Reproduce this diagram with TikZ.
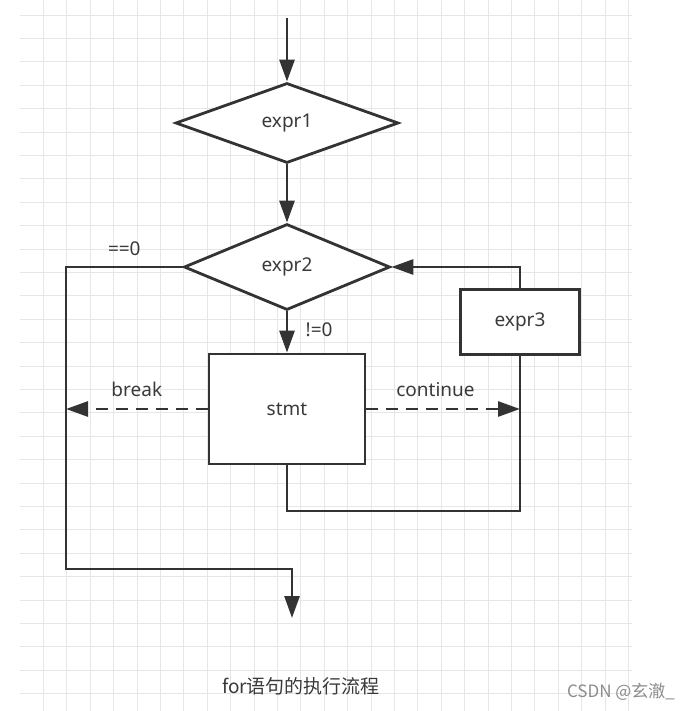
\documentclass[tikz,border=0pt]{standalone}
\usepackage{fontspec}
\setmainfont{Noto Sans}
\newfontfamily\cjkfont{Noto Sans CJK SC}
\usepackage{tikz}
\usetikzlibrary{shapes.geometric, arrows.meta, positioning, calc}
\definecolor{FlowLine}{RGB}{51, 51, 51}
\definecolor{FlowText}{RGB}{58, 58, 58}
\definecolor{FlowGrid}{RGB}{230, 230, 230}
\definecolor{FlowMark}{RGB}{140, 140, 140}

\tikzset{
  gridline/.style={draw=FlowGrid, line width=0.9pt},
  decision/.style={diamond, draw=FlowLine, line width=2.8pt, fill=white, inner sep=0pt},
  process/.style={rectangle, draw=FlowLine, line width=2.8pt, fill=white, inner sep=0pt},
  link/.style={draw=FlowLine, line width=2.8pt},
  flow/.style={link, -{Triangle[length=22pt, width=15pt]}},
  jump/.style={flow, dash pattern=on 12pt off 8pt}
}

\begin{document}
\begin{tikzpicture}[x=1pt, y=-1pt, font=\fontsize{19}{22}\selectfont, text=FlowText]
    \useasboundingbox[fill=white] (0,0) rectangle (698,711);
    % background grid
    \foreach \i in {1,...,26}
      \draw[gridline] (20+23.4*\i,0) -- (20+23.4*\i,711);
    \foreach \j in {0,...,29}
      \draw[gridline] (20,15+23.4*\j) -- (632,15+23.4*\j);

    % blocks
    \node[decision, minimum width=223pt, minimum height=80pt] (expr1) at (287,123) {expr1};
    \node[decision, minimum width=206pt, minimum height=86pt] (expr2) at (287,267) {expr2};
    \node[process, minimum width=156pt, minimum height=110pt] (stmt) at (287,409) {stmt};
    \node[process, minimum width=119pt, minimum height=65pt] (expr3) at (520,322) {expr3};

    \coordinate (start) at (287,18);
    \coordinate (leftbus) at (66,569);
    \coordinate (done) at (292,618);
    \coordinate (loopbot) at (520,511);

    % connectors
    \draw[flow] (start) -- (expr1);
    \draw[flow] (expr1) -- (expr2);
    \draw[flow] (expr2) -- node[right=14pt, pos=0.45] {!=0} (stmt);
    \draw[flow] (expr2.west) -- node[above=7pt] {==0} (expr2.west -| leftbus)
      -- (leftbus) -| (done);
    \draw[jump] (stmt.west) -- node[above=8pt] {break} (stmt.west -| leftbus);
    \draw[jump] (stmt.east) -- node[above=8pt, pos=0.45] {continue} (stmt.east -| expr3);
    \draw[link] (stmt.south) |- (loopbot) -- (expr3.south);
    \draw[flow] (expr3.north) |- (expr2.east);

    % captions
    \node (caption) at (301,686) {\cjkfont for语句的执行流程};
    \node[text=FlowMark, font=\fontsize{17}{20}\selectfont] (mark) at (621,692) {\cjkfont CSDN @玄澈\_};
\end{tikzpicture}
\end{document}
